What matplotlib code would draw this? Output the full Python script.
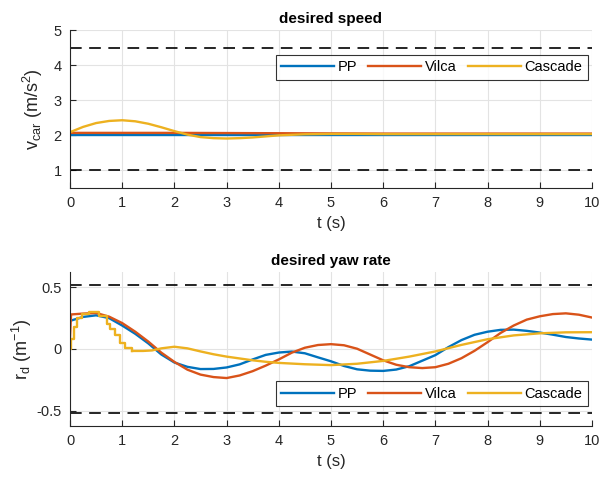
import matplotlib
matplotlib.use("Agg")
import matplotlib.pyplot as plt

plt.rcParams['font.family'] = ['Liberation Sans', 'DejaVu Sans']
plt.rcParams['mathtext.fontset'] = 'custom'
plt.rcParams['mathtext.rm'] = 'Liberation Sans'
plt.rcParams['mathtext.it'] = 'Liberation Sans:italic'

# ---------------- data: desired speed ----------------
speed_pp_t = [0, 10]
speed_pp = [2.0, 2.0]
speed_vilca_t = [0, 2, 4, 6, 8, 10]
speed_vilca = [2.07, 2.07, 2.06, 2.05, 2.05, 2.05]
speed_casc_t = [0, 0.25, 0.5, 0.75, 1.0, 1.25, 1.5, 1.75, 2.0, 2.25, 2.5, 2.75,
                3.0, 3.25, 3.5, 3.75, 4.0, 4.5, 5.0, 5.5, 6.0, 7.0, 8.0, 9.0, 10.0]
speed_casc = [2.09, 2.24, 2.35, 2.41, 2.43, 2.40, 2.33, 2.23, 2.12, 2.02, 1.95, 1.92,
              1.91, 1.92, 1.94, 1.97, 2.00, 2.03, 2.04, 2.04, 2.035, 2.035, 2.035, 2.035, 2.035]
speed_limits = [4.5, 1.0]

# ---------------- data: desired yaw rate ----------------
yaw_pp_t = [0, 0.25, 0.5, 0.75, 1.0, 1.25, 1.5, 1.75, 2.0, 2.25, 2.5, 2.75, 3.0, 3.25,
            3.5, 3.75, 4.0, 4.25, 4.5, 4.75, 5.0, 5.25, 5.5, 5.75, 6.0, 6.25, 6.5, 6.75,
            7.0, 7.25, 7.5, 7.75, 8.0, 8.25, 8.5, 8.75, 9.0, 9.25, 9.5, 9.75, 10.0]
yaw_pp = [0.228, 0.26, 0.273, 0.25, 0.19, 0.123, 0.045, -0.045, -0.11, -0.145, -0.163,
          -0.162, -0.15, -0.125, -0.085, -0.048, -0.029, -0.021, -0.035, -0.068, -0.1,
          -0.138, -0.165, -0.176, -0.178, -0.167, -0.14, -0.095, -0.05, 0.015, 0.072,
          0.115, 0.14, 0.155, 0.157, 0.147, 0.133, 0.116, 0.097, 0.085, 0.076]
yaw_vilca_t = [0, 0.02, 0.25, 0.5, 0.75, 1.0, 1.25, 1.5, 1.75, 2.0, 2.25, 2.5, 2.75, 3.0,
               3.25, 3.5, 3.75, 4.0, 4.25, 4.5, 4.75, 5.0, 5.25, 5.5, 5.75, 6.0, 6.25,
               6.5, 6.75, 7.0, 7.25, 7.5, 7.75, 8.0, 8.25, 8.5, 8.75, 9.0, 9.25, 9.5,
               9.75, 10.0]
yaw_vilca = [0.097, 0.28, 0.287, 0.292, 0.262, 0.21, 0.14, 0.06, -0.03, -0.105, -0.168,
             -0.208, -0.228, -0.236, -0.215, -0.18, -0.135, -0.085, -0.03, 0.01, 0.032,
             0.039, 0.03, 0.002, -0.045, -0.092, -0.128, -0.148, -0.155, -0.148, -0.12,
             -0.075, -0.015, 0.055, 0.13, 0.19, 0.238, 0.265, 0.283, 0.289, 0.278, 0.255]
# cascade: coarse zero-order-hold start, then smooth
yaw_casc_step_t = [0, 0.01, 0.07, 0.14, 0.23, 0.36, 0.55, 0.71, 0.77, 0.87, 0.96, 1.06, 1.19]
yaw_casc_step = [0.0, 0.084, 0.176, 0.255, 0.28, 0.30, 0.268, 0.2, 0.163, 0.11, 0.045,
                 0.005, -0.016]
yaw_casc_t = [1.19, 1.4, 1.57, 1.75, 2.0, 2.25, 2.5, 2.75, 3.0, 3.25, 3.5, 3.75, 4.0,
              4.5, 5.0, 5.5, 6.0, 6.5, 7.0, 7.5, 8.0, 8.5, 9.0, 9.5, 10.0]
yaw_casc = [-0.016, -0.016, -0.012, 0.005, 0.018, 0.005, -0.02, -0.043, -0.062, -0.077,
            -0.092, -0.104, -0.113, -0.124, -0.131, -0.12, -0.097, -0.062, -0.02, 0.033,
            0.079, 0.11, 0.127, 0.135, 0.136]
yaw_limits = [0.52, -0.52]

series_names = ['PP', 'Vilca', 'Cascade']
colors = ['#0072BD', '#D95319', '#EDB120']
xticks = list(range(0, 11))

fig = plt.figure(figsize=(6.02, 4.83), dpi=100)
ax1 = fig.add_axes([0.1163, 0.6108, 0.867, 0.327])
ax2 = fig.add_axes([0.1163, 0.118, 0.867, 0.319])

TXT = '#262626'
lw = 1.7


def style(ax):
    ax.set_xlim(0, 10)
    ax.set_xticks(xticks)
    ax.grid(True, color='#e3e3e3', linewidth=0.8)
    ax.set_axisbelow(True)
    for s in ['top', 'right']:
        ax.spines[s].set_visible(False)
    for s in ['left', 'bottom']:
        ax.spines[s].set_color(TXT)
        ax.spines[s].set_linewidth(0.8)
    ax.tick_params(direction='in', length=4, width=0.8, colors=TXT, labelsize=10.5,
                   top=False, right=False, pad=6)
    ax.set_xlabel('t (s)', fontsize=12, color=TXT, labelpad=4)


def legend(ax, loc, anchor):
    leg = ax.legend(ncol=3, loc=loc, bbox_to_anchor=anchor, fontsize=10.5,
                    frameon=True, fancybox=False, edgecolor='black', handlelength=3.6,
                    columnspacing=0.8, handletextpad=0.25, borderpad=0.38,
                    borderaxespad=0.3)
    leg.get_frame().set_linewidth(0.8)
    return leg


# top
ax1.plot(speed_pp_t, speed_pp, color=colors[0], lw=lw, label=series_names[0])
ax1.plot(speed_vilca_t, speed_vilca, color=colors[1], lw=lw, label=series_names[1])
ax1.plot(speed_casc_t, speed_casc, color=colors[2], lw=lw, label=series_names[2])
for v in speed_limits:
    ax1.axhline(v, color='black', lw=1.2, dashes=(7, 4.5))
ax1.set_ylim(0.5, 5)
ax1.set_yticks([1, 2, 3, 4, 5])
style(ax1)
ax1.set_ylabel(r'v$_{\rm car}$ (m/s$^{2}$)', fontsize=13, color=TXT, labelpad=6)
ax1.set_title('desired speed', fontsize=11, fontweight='bold', pad=5)
legend(ax1, 'upper right', (1.0, 0.87))

# bottom
ax2.plot(yaw_pp_t, yaw_pp, color=colors[0], lw=lw, label=series_names[0])
ax2.plot(yaw_vilca_t, yaw_vilca, color=colors[1], lw=lw, label=series_names[1])
ax2.step(yaw_casc_step_t, yaw_casc_step, where='post', color=colors[2], lw=lw,
         label=series_names[2])
ax2.plot(yaw_casc_t, yaw_casc, color=colors[2], lw=lw)
for v in yaw_limits:
    ax2.axhline(v, color='black', lw=1.2, dashes=(7, 4.5))
ax2.set_ylim(-0.625, 0.625)
ax2.set_yticks([-0.5, 0, 0.5])
ax2.set_yticklabels(['-0.5', '0', '0.5'])
style(ax2)
ax2.set_ylabel(r'r$_{\rm d}$ (m$^{-1}$)', fontsize=13, color=TXT, labelpad=2)
ax2.set_title('desired yaw rate', fontsize=11, fontweight='bold', pad=5)
legend(ax2, 'lower right', (1.0, 0.1))

fig.savefig('out.png', dpi=100)
